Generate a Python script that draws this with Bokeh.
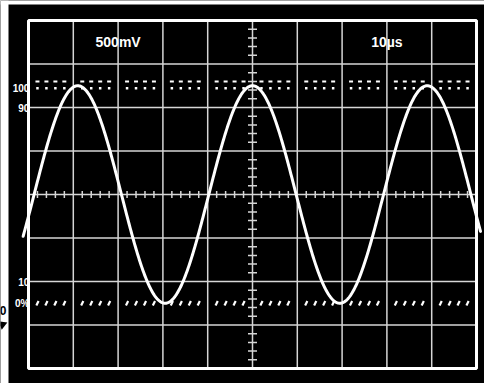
from bokeh.plotting import figure
from bokeh.core.properties import value
from bokeh.embed import file_html
from bokeh.resources import INLINE
import numpy as np

# ---- screen description (units: divisions) ----
x_divisions = list(range(0, 11))          # 10 horizontal divisions
y_divisions = list(range(0, 9))           # 8 vertical divisions
minor_steps = [0.2, 0.4, 0.6, 0.8]        # sub-division marks

level_labels = ["100", "90", "10", "0%"]
level_y = [6.45, 6.0, 2.0, 1.5]

channel_labels = ["500mV", "10µs"]
channel_x = [2.0, 8.0]
channel_y = [7.5, 7.5]

ref_high_rows = [6.6, 6.44]               # dotted 100 % reference rows
ref_low_row = 1.5                         # dotted 0 % reference row

# trace
amplitude_div = 2.5
center_div = 4.0
period_div = 3.9
peak_div = 5.0
trace_start = -0.12
trace_end = 10.09

PX_X = 44.8
PX_Y = 43.5
X0 = -28 / PX_X
X1 = 456 / PX_X
Y0 = -15 / PX_Y
Y1 = 368 / PX_Y

p = figure(width=484, height=383, output_backend="svg", toolbar_location=None,
           x_range=(X0, X1), y_range=(Y0, Y1),
           x_axis_type=None, y_axis_type=None, min_border=0,
           background_fill_color="black", border_fill_color="white",
           outline_line_color=None)
p.grid.visible = False

# white page edges (left and top)
p.quad(left=[X0], right=[X0 + 8 / PX_X], bottom=[Y0], top=[Y1],
       fill_color="white", line_color=None)
p.quad(left=[X0], right=[X1], bottom=[Y1 - 4 / PX_Y], top=[Y1],
       fill_color="white", line_color=None)

GRID = "#d6d6d6"
inner_x = x_divisions[1:-1]
inner_y = y_divisions[1:-1]
p.segment(x0=inner_x, y0=[y_divisions[0]] * len(inner_x), x1=inner_x,
          y1=[y_divisions[-1]] * len(inner_x), line_color=GRID, line_width=1.5)
p.segment(x0=[x_divisions[0]] * len(inner_y), y0=inner_y,
          x1=[x_divisions[-1]] * len(inner_y), y1=inner_y, line_color=GRID, line_width=1.5)

# minor ticks on centre lines
cx = x_divisions[len(x_divisions) // 2]
cy = y_divisions[len(y_divisions) // 2]
tx = [k + m for k in x_divisions[:-1] for m in minor_steps]
ty = [k + m for k in y_divisions[:-1] for m in minor_steps]
hx = 3.5 / PX_Y
hy = 4.5 / PX_X
p.segment(x0=tx, y0=[cy - hx] * len(tx), x1=tx, y1=[cy + hx] * len(tx),
          line_color=GRID, line_width=1.5)
p.segment(x0=[cx - hy] * len(ty), y0=ty, x1=[cx + hy] * len(ty), y1=ty,
          line_color=GRID, line_width=1.5)

# dotted reference rows
p.rect(x=tx, y=[ref_high_rows[0]] * len(tx), width=4, height=2,
       width_units="screen", height_units="screen", fill_color="white", line_color=None)
p.rect(x=tx, y=[ref_high_rows[1]] * len(tx), width=2.5, height=2.5,
       width_units="screen", height_units="screen", fill_color="white", line_color=None)
p.rect(x=tx, y=[ref_low_row] * len(tx), width=2.2, height=5, angle=-0.45,
       width_units="screen", height_units="screen", fill_color="white", line_color=None)

# outer frame
p.quad(left=[x_divisions[0]], right=[x_divisions[-1]], bottom=[y_divisions[0]],
       top=[y_divisions[-1]], fill_color=None, line_color="white", line_width=3)

# trace
t = np.linspace(trace_start, trace_end, 800)
v = center_div + amplitude_div * np.cos(2 * np.pi * (t - peak_div) / period_div)
p.line(t, v, line_color="white", line_width=3, line_join="round", line_cap="round")

# level labels
p.text(x=[0.02] * len(level_labels), y=level_y, text=level_labels,
       text_align="right", text_baseline="middle", text_color="white",
       text_font=value("Liberation Sans"), text_font_style="bold",
       text_font_size="10px")

# channel settings
p.text(x=channel_x, y=channel_y, text=channel_labels, text_align="center",
       text_baseline="middle", text_color="white",
       text_font=value("Liberation Sans"), text_font_style="bold",
       text_font_size="14px")

# cut-off ground marker at the left page edge
p.text(x=[X0 + 6 / PX_X], y=[(368 - 310) / PX_Y], text=["0"], text_align="right",
       text_baseline="middle", text_color="black",
       text_font=value("Liberation Sans"), text_font_style="bold", text_font_size="12px")
p.scatter(x=[X0 + 2 / PX_X], y=[(368 - 324) / PX_Y], marker="triangle", angle=-1.2,
          size=9, fill_color="black", line_color=None)

open("out.html", "w").write(file_html(p, INLINE))
